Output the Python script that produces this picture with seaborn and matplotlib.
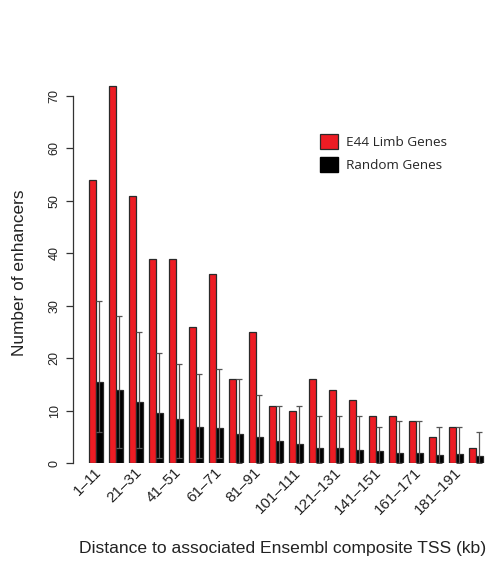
import matplotlib
matplotlib.use("Agg")
import matplotlib.pyplot as plt
from matplotlib.patches import Patch
import seaborn as sns
import pandas as pd
import numpy as np

# Distance bins (kb) to the associated Ensembl composite TSS
bins = ["1–11", "11–21", "21–31", "31–41", "41–51", "51–61", "61–71", "71–81",
        "81–91", "91–101", "101–111", "111–121", "121–131", "131–141", "141–151",
        "151–161", "161–171", "171–181", "181–191", "191–201"]
limb_counts = [54, 72, 51, 39, 39, 26, 36, 16, 25, 11, 10, 16, 14, 12, 9, 9, 8, 5, 7, 3]
random_means = [15.5, 14.0, 11.7, 9.5, 8.4, 6.9, 6.7, 5.6, 5.0, 4.2,
                3.7, 2.9, 2.9, 2.5, 2.3, 2.0, 2.0, 1.6, 1.8, 1.4]
random_upper = [31, 28, 25, 21, 19, 17, 18, 16, 13, 11, 11, 9, 9, 9, 7, 8, 8, 7, 7, 6]
random_lower = [6, 3, 3, 1, 1, 1, 1, 0, 0, 0, 0, 0, 0, 0, 0, 0, 0, 0, 0, 0]
series_names = ["E44 Limb Genes", "Random Genes"]

sns.set_theme(style="white")
plt.rcParams["font.family"] = ["Liberation Sans", "DejaVu Sans"]

df = pd.DataFrame({
    "bin": bins * 2,
    "count": limb_counts + random_means,
    "set": [series_names[0]] * len(bins) + [series_names[1]] * len(bins),
})

W, H = 493, 565
fig = plt.figure(figsize=(W / 100, H / 100), dpi=100)

# axes placed in pixel units: group i centre at 96 + 20*i px, y=0 at 463 px
px_per_group = 20.0
x_left_px, x_right_px = 73.3, 490.0
y0_px, ytop_px = 463.3, 60.0
px_per_unit = 5.247
xlim = ((x_left_px - 96) / px_per_group, (x_right_px - 96) / px_per_group)
ylim = (0, (y0_px - ytop_px) / px_per_unit)
ax = fig.add_axes([x_left_px / W, (H - y0_px) / H,
                   (x_right_px - x_left_px) / W, (y0_px - ytop_px) / H])

sns.barplot(data=df, x="bin", y="count", hue="set", order=bins,
            hue_order=series_names, palette=["#ED1C24", "#000000"],
            width=2 / 3, gap=0, errorbar=None, legend=False, ax=ax,
            edgecolor="#2a2a2a", linewidth=0.9, saturation=1)

# error bars on the random-gene bars
xs = np.arange(len(bins)) + 1 / 6
means = np.array(random_means)
yerr = np.vstack([means - np.array(random_lower), np.array(random_upper) - means])
ax.errorbar(xs, means, yerr=yerr, fmt="none", ecolor="#555555",
            elinewidth=0.9, capsize=2.2, capthick=0.9, zorder=5)

ax.set_xlim(*xlim)
ax.set_ylim(*ylim)

for s in ["top", "right", "bottom"]:
    ax.spines[s].set_visible(False)
ax.spines["left"].set_bounds(0, 70)
ax.spines["left"].set_color("#333333")
ax.spines["left"].set_linewidth(0.9)

ax.set_yticks(range(0, 71, 10))
ax.set_yticklabels([str(v) for v in range(0, 71, 10)], rotation=90,
                   va="center", fontsize=9, color="#222222")
ax.tick_params(axis="y", left=True, length=5, width=0.9, color="#333333", pad=4)

ax.set_xticks(np.arange(0, len(bins), 2) + 0.15)
ax.set_xticklabels(bins[::2], rotation=45, ha="right", va="center",
                   rotation_mode="anchor", fontsize=11, color="#222222")
ax.tick_params(axis="x", bottom=False, length=0, pad=5)
ax.set_xlabel("")
ax.set_ylabel("")

fig.text(20 / W, 1 - 273 / H, "Number of enhancers", rotation=90,
         ha="center", va="center", fontsize=12.4, color="#222222")
fig.text(283 / W, 1 - 548 / H, "Distance to associated Ensembl composite TSS (kb)",
         ha="center", va="center", fontsize=12.6, color="#222222")

handles = [Patch(facecolor="#ED1C24", edgecolor="#2a2a2a", linewidth=0.9),
           Patch(facecolor="#000000", edgecolor="#000000")]
ax.legend(handles, series_names, loc="upper left",
          bbox_to_anchor=(308 / W, 1 - 122 / H), bbox_transform=fig.transFigure,
          frameon=False, handlelength=1.34, handleheight=1.34, handletextpad=0.6,
          labelspacing=0.6, prop={"family": "Open Sans", "size": 9.7})

fig.savefig("out.png", dpi=100, facecolor="white")
